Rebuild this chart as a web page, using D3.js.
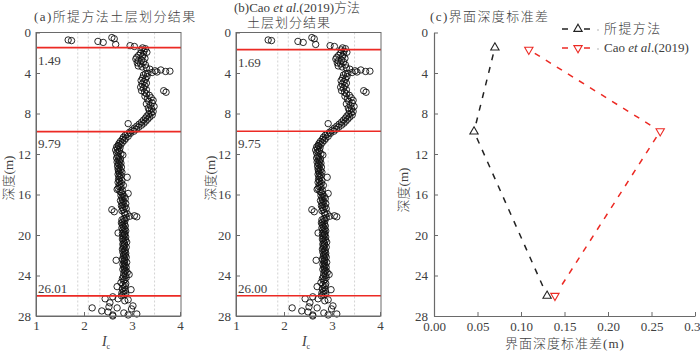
<!DOCTYPE html>
<html>
<head>
<meta charset="utf-8">
<script src="https://cdn.jsdelivr.net/npm/d3@7"></script>
<style>
  body { margin: 0; background: #fff; }
  svg { font-family: "Liberation Serif", "Noto Sans CJK SC", serif; }
  .cjk { font-weight: 300; }
</style>
</head>
<body>
<svg id="chart" width="700" height="351"></svg>
<script>
// CPT points: [depth (m), Ic]
const cptTop = [[0.50,2.58],[0.62,2.63],[0.74,1.67],[0.80,1.74],[0.88,2.29],[0.98,2.40],[1.18,2.66],[1.30,2.96],[1.38,3.05]];
const cptUpper = [[1.52,3.22],[1.60,3.28],[1.72,3.19],[1.85,3.25],[1.95,3.31],[2.05,3.18],[2.15,3.24],[2.25,3.14],[2.35,3.22],[2.45,3.10],
  [2.55,3.27],[2.62,3.08],[2.72,3.20],[2.80,3.13],[2.90,3.24],[3.00,3.11],[3.10,3.18],[3.20,3.28],[3.30,3.13],[3.40,3.21],[3.50,3.30],
  [3.62,3.37],[3.70,3.60],[3.78,3.48],[3.85,3.70],[3.90,3.52],[3.82,3.79],[3.95,3.42],[4.02,3.33],
  [4.10,3.28],[4.20,3.24],[4.35,3.31],[4.50,3.22],[4.60,3.28],[4.75,3.19],[4.85,3.25],[5.00,3.30],[5.10,3.21],[5.25,3.27],[5.40,3.18],
  [5.50,3.24],[5.65,3.30],[5.75,3.20],[5.90,3.26],[5.75,3.66],[5.90,3.71],
  [6.05,3.30],[6.20,3.36],[6.30,3.27],[6.45,3.40],[6.55,3.32],[6.70,3.44],[6.80,3.35],[6.95,3.42],[7.05,3.30],[7.20,3.38],[7.30,3.46],
  [7.45,3.34],[7.55,3.41],[7.70,3.36],[7.80,3.44],[7.95,3.40],[8.05,3.35],[8.15,3.42],[8.25,3.31],[8.35,3.37],[8.45,3.28],[8.55,3.33],
  [8.65,3.24],[8.75,3.29],[8.85,3.20],[8.95,3.25],[9.00,2.92],[9.05,3.15],[9.15,3.20],[9.25,3.10],[9.35,3.14],[9.45,3.05],[9.55,3.09],
  [9.65,3.00],[9.75,3.04],[9.85,2.95]];
const cptMiddle = [[9.95,2.97],[10.05,2.90],[10.15,2.86],[10.25,2.92],[10.35,2.82],[10.45,2.87],[10.55,2.80],[10.65,2.84],[10.75,2.76],
  [10.85,2.80],[10.95,2.73],[11.05,2.77],[11.15,2.71],[11.2,2.72],[11.3,2.68],[11.4,2.75],[11.5,2.70],[11.6,2.66],[11.7,2.74],[11.8,2.71],
  [11.9,2.68],[12.0,2.77],[12.1,2.81],[12.2,2.70],[12.3,2.73],[12.4,2.68],[12.5,2.76],[12.6,2.71],[12.7,2.74],[12.8,2.69],[12.9,2.77],
  [13.0,2.72],[13.1,2.75],[13.2,2.70],[13.3,2.78],[13.4,2.73],[13.5,2.71],[13.6,2.76],[13.7,2.72],[13.8,2.79],[13.9,2.74],[14.0,2.71],
  [14.1,2.77],[14.2,2.73],[14.3,2.90],[14.35,2.75],[14.5,2.72],[14.6,2.79],[14.7,2.74],[14.8,2.71],[14.9,2.78],[15.0,2.75],[15.1,2.82],
  [15.2,2.73],[15.3,2.77],[15.4,2.71],[15.5,2.69],[15.6,2.80],[15.7,2.75],[15.8,2.78],[15.9,2.92],[16.0,2.81],[16.1,2.77],[16.2,2.84],
  [16.3,2.79],[16.4,2.86],[16.5,2.80],[16.6,2.76],[16.7,2.83],[16.8,2.79],[16.9,2.87],[17.0,2.81],[17.1,2.78],[17.2,2.85],[17.3,2.80],
  [17.4,2.88],[17.5,2.58],[17.5,2.82],[17.6,2.79],[17.7,2.63],[17.8,2.84],[17.9,2.90],[18.0,2.86],[18.1,3.05],[18.15,2.95],[18.2,3.10],
  [18.3,2.88],[18.4,2.83],[18.5,2.79],[18.6,2.85],[18.7,2.81],[18.8,2.78],[18.9,2.84],[19.0,2.80],[19.1,2.86],[19.2,2.82],[19.3,2.79],
  [19.4,2.85],[19.5,2.81],[19.6,2.87],[19.7,2.83],[19.8,2.71],[19.85,2.80],[19.9,2.85]];
const cptLower = [[20.0,2.84],[20.1,2.81],[20.2,2.87],[20.3,2.83],[20.4,2.80],[20.5,2.86],[20.6,2.82],[20.7,2.89],[20.8,2.84],[20.9,2.81],
  [21.0,2.85],[21.1,2.82],[21.2,2.88],[21.3,2.83],[21.4,2.80],[21.5,2.86],[21.6,2.84],[21.7,2.81],[21.8,2.87],[21.9,2.83],
  [22.0,2.86],[22.1,2.82],[22.2,2.88],[22.3,2.84],[22.4,2.80],[22.5,2.67],[22.5,2.85],[22.6,2.83],[22.7,2.89],[22.8,2.84],[22.9,2.81],
  [23.0,2.86],[23.1,2.83],[23.2,2.88],[23.3,2.84],[23.4,2.81],[23.5,2.87],[23.6,2.85],[23.7,2.90],[23.8,2.83],[23.9,2.94],
  [24.0,2.86],[24.1,2.82],[24.2,2.88],[24.3,2.80],[24.4,2.85],[24.5,2.83],[24.7,2.77],[24.8,2.87],[24.9,2.81],[25.0,2.86],
  [25.1,2.69],[25.2,2.84],[25.3,2.80],[25.4,2.98],[25.5,2.86],[25.6,2.82],[25.7,2.79],[25.8,2.87],[25.9,2.83],[26.0,2.78],
  [26.1,2.60],[26.3,2.44],[26.3,2.71],[26.4,2.92],[26.5,2.85],[26.7,2.54],[27.0,3.02],[27.1,2.52],[27.2,2.69],[27.2,2.17],
  [27.3,2.99],[27.5,2.37],[27.6,2.50],[27.7,2.83],[27.8,3.10],[27.9,2.60],[27.9,2.92],[28.0,2.60]];

// layer boundaries found by each method
const layersOurs = [1.49, 9.79, 26.01];
const layersCao = [1.69, 9.75, 26.00];
const labelsOurs = ["1.49", "9.79", "26.01"];
const labelsCao = ["1.69", "9.75", "26.00"];

// soil-type guide lines (Ic)
const guideIc = [1.87, 2.09, 2.33, 2.92, 3.47];

// interface depth standard deviations
const stdDepthOurs = [1.49, 9.79, 26.01];
const stdOurs = [0.070, 0.046, 0.130];
const stdDepthCao = [1.69, 9.75, 26.00];
const stdCao = [0.109, 0.260, 0.139];

const depthTicks = [0, 4, 8, 12, 16, 20, 24, 28];
const icTicks = [1, 2, 3, 4];
const stdTicks = [0, 0.05, 0.10, 0.15, 0.20, 0.25, 0.30];

const cpt = cptTop.concat(cptUpper, cptMiddle, cptLower);

const svg = d3.select("#chart");
const textCol = "#404040", axisCol = "#6a6a6a", red = "#ec2a24";

const y = d3.scaleLinear().domain([0, 28]).range([32.5, 316]);

function yAxisLabel(x, cy) {
    svg.append("text").attr("class", "cjk")
        .attr("transform", `translate(${x},${cy}) rotate(-90)`)
        .attr("text-anchor", "middle")
        .attr("font-size", 13).attr("fill", textCol)
        .text("深度(m)");
}

function styleAxis(a) {
    a.select(".domain").attr("stroke", axisCol);
    a.selectAll(".tick line").attr("stroke", axisCol);
    a.selectAll(".tick text").attr("font-size", 13).attr("fill", textCol)
        .attr("font-family", "Liberation Serif");
}

function profile(x0, x1, layers, labels, labelDy) {
    const x = d3.scaleLinear().domain([1, 4]).range([x0, x1]);
    const g = svg.append("g");

    g.selectAll("line.guide").data(guideIc).join("line")
        .attr("x1", d => x(d)).attr("x2", d => x(d))
        .attr("y1", y(0)).attr("y2", y(28))
        .attr("stroke", "#c8c8c8").attr("stroke-width", 0.8)
        .attr("stroke-dasharray", "2,2");

    g.append("g").selectAll("circle").data(cpt).join("circle")
        .attr("cx", d => x(d[1])).attr("cy", d => y(d[0]))
        .attr("r", 3.2).attr("fill", "none")
        .attr("stroke", "#111").attr("stroke-width", 0.9);

    g.selectAll("line.layer").data(layers).join("line")
        .attr("x1", x0).attr("x2", x1 + 1)
        .attr("y1", d => y(d)).attr("y2", d => y(d))
        .attr("stroke", red).attr("stroke-width", 1.6);

    g.selectAll("text.lab").data(layers).join("text")
        .attr("x", x0 + 2)
        .attr("y", (d, i) => y(d) + labelDy[i])
        .attr("font-size", 13).attr("fill", textCol)
        .text((d, i) => labels[i]);

    // frame
    g.append("rect")
        .attr("x", x0).attr("y", y(0))
        .attr("width", x1 + 1 - x0).attr("height", y(28) - y(0))
        .attr("fill", "none").attr("stroke", axisCol).attr("stroke-width", 1);

    const ay = g.append("g").attr("transform", `translate(${x0},0)`)
        .call(d3.axisLeft(y).tickValues(depthTicks).tickSizeInner(-4).tickSizeOuter(0).tickPadding(5));
    const ax = g.append("g").attr("transform", `translate(0,${y(28)})`)
        .call(d3.axisBottom(x).tickValues(icTicks).tickFormat(d3.format("d"))
            .tickSizeInner(-4).tickSizeOuter(0).tickPadding(5));
    styleAxis(ay);
    styleAxis(ax);

    const xl = svg.append("text").attr("x", (x0 + x1) / 2 - 2).attr("y", 346)
        .attr("text-anchor", "middle").attr("fill", textCol).attr("font-size", 14);
    xl.append("tspan").attr("font-style", "italic").text("I");
    xl.append("tspan").attr("font-size", 8).attr("dy", 3).text("c");
}

profile(36, 180, layersOurs, labelsOurs, [17, 16.5, -2.5]);
profile(236, 380, layersCao, labelsCao, [17, 16.5, -2.5]);

yAxisLabel(13, 178);
yAxisLabel(215, 178);
yAxisLabel(408, 190);

// titles
svg.append("text").attr("class", "cjk").attr("x", 34).attr("y", 21).attr("font-size", 13).attr("fill", textCol)
    .attr("letter-spacing", 1.4).text("(a)所提方法土层划分结果");
const tb = svg.append("text").attr("class", "cjk").attr("x", 234).attr("y", 12).attr("font-size", 13).attr("fill", textCol);
tb.append("tspan").text("(b)Cao ");
tb.append("tspan").attr("font-style", "italic").text("et al");
tb.append("tspan").text(".(2019)方法");
svg.append("text").attr("class", "cjk").attr("x", 247).attr("y", 27).attr("font-size", 13).attr("fill", textCol)
    .attr("letter-spacing", 1).text("土层划分结果");
svg.append("text").attr("class", "cjk").attr("x", 430).attr("y", 21).attr("font-size", 13).attr("fill", textCol)
    .attr("letter-spacing", 1.4).text("(c)界面深度标准差");

// panel c
const xs = d3.scaleLinear().domain([0, 0.30]).range([434, 695]);
const gc = svg.append("g");
const ayc = gc.append("g").attr("transform", "translate(434,0)")
    .call(d3.axisLeft(y).tickValues(depthTicks).tickSizeInner(-4).tickSizeOuter(0).tickPadding(6));
const axc = gc.append("g").attr("transform", `translate(0,${y(28)})`)
    .call(d3.axisBottom(xs).tickValues(stdTicks).tickFormat(d3.format(".2f"))
        .tickSizeInner(-4).tickSizeOuter(0).tickPadding(6));
styleAxis(ayc);
styleAxis(axc);
ayc.select(".domain").attr("stroke-width", 1.2);
axc.select(".domain").attr("stroke-width", 1.2);

svg.append("text").attr("class", "cjk").attr("x", 565).attr("y", 348).attr("text-anchor", "middle")
    .attr("font-size", 13).attr("fill", textCol).attr("letter-spacing", 1).text("界面深度标准差(m)");

function series(depths, vals, color, rot) {
    const pts = depths.map((d, i) => [xs(vals[i]), y(d)]);
    const segs = d3.pairs(pts).map(([a, b]) => {
        const dx = b[0] - a[0], dy = b[1] - a[1], L = Math.hypot(dx, dy), s = 7 / L;
        return [a[0] + dx * s, a[1] + dy * s, b[0] - dx * s, b[1] - dy * s];
    });
    gc.selectAll(null).data(segs).join("line")
        .attr("x1", d => d[0]).attr("y1", d => d[1]).attr("x2", d => d[2]).attr("y2", d => d[3])
        .attr("stroke", color).attr("stroke-width", 1.5).attr("stroke-dasharray", "6,7");
    gc.selectAll(null).data(pts).join("path")
        .attr("d", d3.symbol(d3.symbolTriangle, 30))
        .attr("transform", d => `translate(${d[0]},${d[1]}) rotate(${rot})`)
        .attr("fill", "none").attr("stroke", color).attr("stroke-width", 1.1);
}
series(stdDepthOurs, stdOurs, "#222", 0);
series(stdDepthCao, stdCao, red, 180);

// legend
const legend = [
    { color: "#222", rot: 0, y: 29, name: ["所提方法"] },
    { color: red, rot: 180, y: 48, name: ["Cao ", "et al", ".(2019)"] }
];
legend.forEach(l => {
    const g = svg.append("g");
    [[562, 568], [584, 590]].forEach(s => g.append("line")
        .attr("x1", s[0]).attr("x2", s[1]).attr("y1", l.y).attr("y2", l.y)
        .attr("stroke", l.color).attr("stroke-width", 1.5));
    g.append("path").attr("d", d3.symbol(d3.symbolTriangle, 30))
        .attr("transform", `translate(578,${l.y}) rotate(${l.rot})`)
        .attr("fill", "#fff").attr("stroke", l.color).attr("stroke-width", 1.1);
    g.append("circle").attr("cx", 598).attr("cy", l.y + 1).attr("r", 0.7).attr("fill", "#999");
    const t = g.append("text").attr("class", "cjk").attr("x", 604).attr("y", l.y + 4)
        .attr("font-size", 13).attr("fill", textCol).attr("letter-spacing", l.name.length === 1 ? 1.4 : 0);
    l.name.forEach((s, i) => t.append("tspan").attr("font-style", i === 1 ? "italic" : null).text(s));
});
</script>
</body>
</html>
